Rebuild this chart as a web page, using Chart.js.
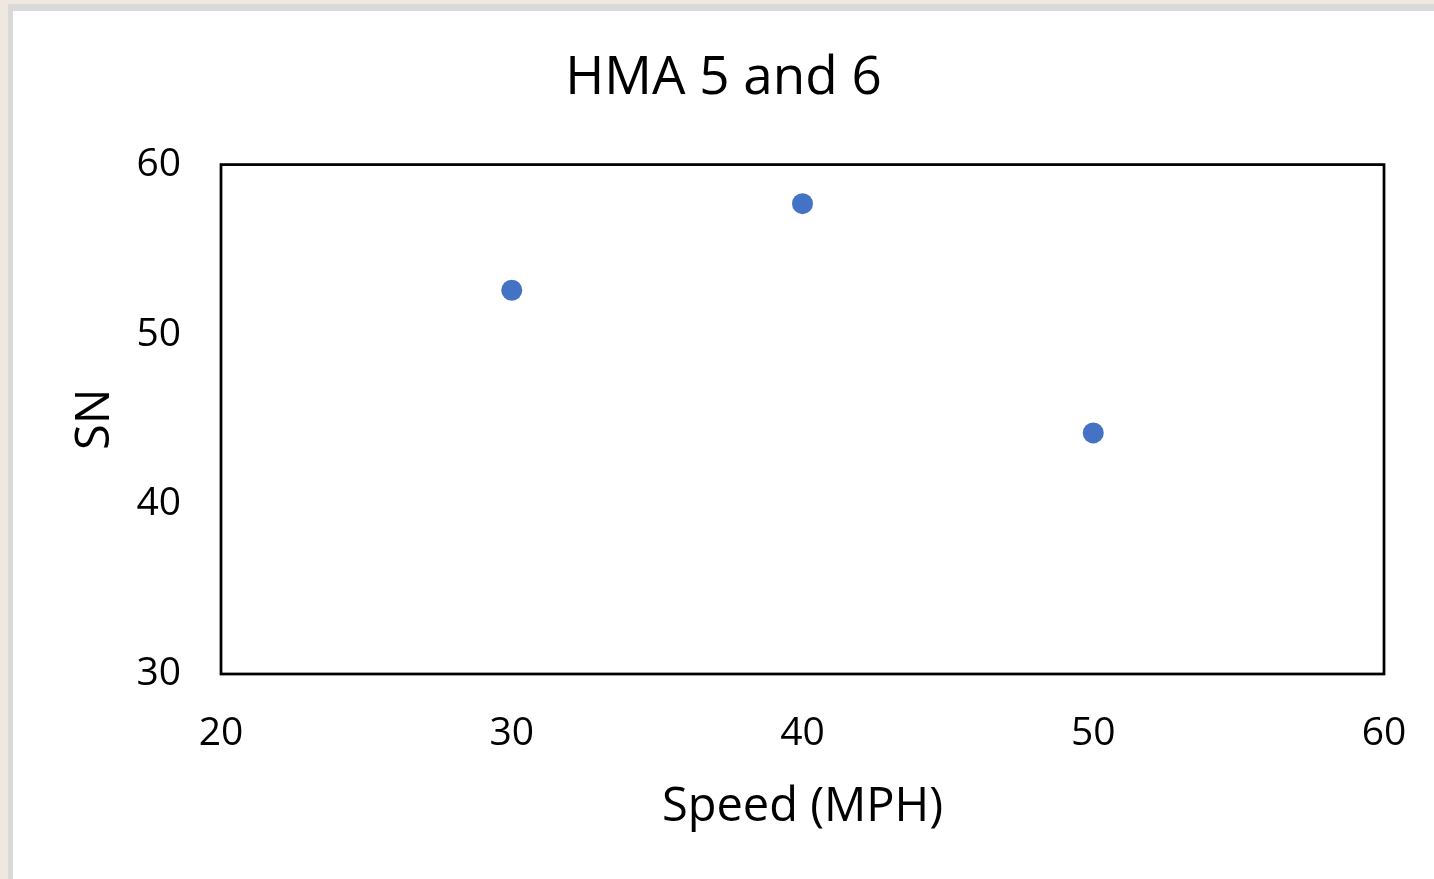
<!DOCTYPE html>
<html>
<head>
<meta charset="utf-8">
<title>HMA 5 and 6</title>
<script src="https://cdn.jsdelivr.net/npm/chart.js@4/dist/chart.umd.min.js"></script>
<style>
    html, body {
        margin: 0;
        padding: 0;
        width: 1434px;
        height: 879px;
        overflow: hidden;
        background: #efe8e1;
    }
    #frame {
        position: absolute;
        left: 8px;
        top: 4px;
        width: 1450px;
        height: 900px;
        background: #fff;
        border-left: 5px solid #d9d9d9;
        border-top: 7px solid #d9d9d9;
    }
    #chartBox {
        position: absolute;
        left: 13px;
        top: 11px;
        width: 1421px;
        height: 868px;
    }
</style>
</head>
<body>
<div id="frame"></div>
<div id="chartBox"><canvas id="snChart"></canvas></div>

<script>
// Skid number vs. test speed
const speeds = [30, 40, 50];
const snValues = [52.6, 57.7, 44.2];

const xTicks = [20, 30, 40, 50, 60];
const yTicks = [30, 40, 50, 60];

const FONT = '"Open Sans", sans-serif';

// Black frame around the plot area
const plotFrame = {
    id: 'plotFrame',
    afterDatasetsDraw(chart) {
        const { ctx, chartArea } = chart;
        ctx.save();
        ctx.strokeStyle = '#000';
        ctx.lineWidth = 2.75;
        ctx.strokeRect(chartArea.left, chartArea.top,
            chartArea.right - chartArea.left, chartArea.bottom - chartArea.top);
        ctx.restore();
    }
};

const ctx = document.getElementById('snChart');

new Chart(ctx, {
    type: 'scatter',
    data: {
        datasets: [{
            label: 'SN',
            data: speeds.map((s, i) => ({ x: s, y: snValues[i] })),
            backgroundColor: '#4472c4',
            borderWidth: 0,
            pointRadius: 10.5,
            pointHoverRadius: 10.5
        }]
    },
    options: {
        responsive: true,
        maintainAspectRatio: false,
        animation: false,
        events: [],
        layout: {
            padding: 0
        },
        plugins: {
            legend: { display: false },
            tooltip: { enabled: false },
            title: {
                display: true,
                text: 'HMA 5 and 6',
                color: '#000',
                font: { family: FONT, size: 53, weight: 'normal' },
                padding: { top: 36, bottom: 54 }
            }
        },
        scales: {
            x: {
                type: 'linear',
                min: xTicks[0],
                max: xTicks[xTicks.length - 1],
                afterBuildTicks: (axis) => { axis.ticks = xTicks.map(v => ({ value: v })); },
                afterFit: (axis) => {
                    axis.height = 205;
                    axis.paddingRight = 50;
                },
                grid: { display: false, drawTicks: false },
                border: { display: false },
                ticks: {
                    color: '#000',
                    padding: 36,
                    font: { family: FONT, size: 39 }
                },
                title: {
                    display: true,
                    text: 'Speed (MPH)',
                    color: '#000',
                    font: { family: FONT, size: 47 },
                    padding: { top: 0, bottom: 43 }
                }
            },
            y: {
                type: 'linear',
                min: yTicks[0],
                max: yTicks[yTicks.length - 1],
                afterBuildTicks: (axis) => { axis.ticks = yTicks.map(v => ({ value: v })); },
                afterFit: (axis) => { axis.width = 208; },
                grid: { display: false, drawTicks: false },
                border: { display: false },
                ticks: {
                    color: '#000',
                    padding: 40,
                    font: { family: FONT, size: 39 }
                },
                title: {
                    display: true,
                    text: 'SN',
                    color: '#000',
                    font: { family: FONT, size: 47 },
                    padding: { top: 54, bottom: 0 }
                }
            }
        }
    },
    plugins: [plotFrame]
});
</script>
</body>
</html>
